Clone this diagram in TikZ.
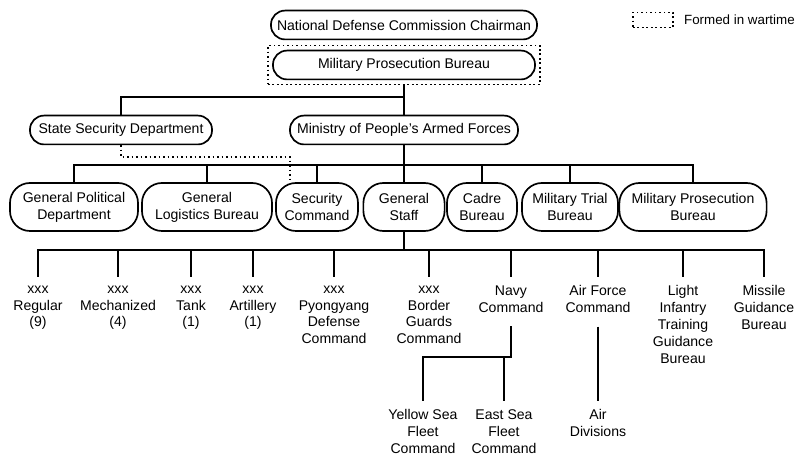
\documentclass[tikz,border=0pt]{standalone}
\usepackage{fontspec}
\setmainfont{Liberation Sans}
\usetikzlibrary{positioning,fit}

\tikzset{
  unit/.style={draw,line width=1.2pt,rounded corners=0.35cm,minimum height=0.72cm,
    inner sep=2pt,font=\fontsize{10}{11.5}\selectfont},
  branch/.style={draw,line width=1.2pt,rounded corners=0.5cm,minimum height=1.2cm,
    align=center,inner sep=2pt,font=\fontsize{10}{12}\selectfont},
  force/.style={align=center,anchor=north,inner sep=6pt,font=\fontsize{10}{12}\selectfont,
    execute at begin node=\strut},
  wartime/.style={draw,dotted,line width=1.2pt},
  link/.style={line width=1.2pt},
}

\begin{document}
\begin{tikzpicture}[x=0.025cm,y=-0.025cm]
  \useasboundingbox (0,0) rectangle (798,457);

  % legend
  \node[wartime,minimum width=1cm,minimum height=0.38cm] (leg) at (653,20) {};
  \node[right=0.25cm of leg,inner sep=0pt,font=\fontsize{9.5}{11}\selectfont] (legtxt) {Formed in wartime};

  % top of the chain
  \node[unit,minimum width=6.65cm] (ndc) at (404,25) {National Defense Commission Chairman};
  \node[unit,minimum width=6.55cm] (mpb1) at (404,65) {Military Prosecution Bureau};
  \node[wartime,fit=(mpb1),inner sep=3pt] (war) {};

  \node[unit,minimum width=4.55cm] (ssd) at (121,130) {State Security Department};
  \node[unit,minimum width=5.7cm] (mapf) at (404,130) {Ministry of People's Armed Forces};

  % second level
  \node[branch,minimum width=3.2cm] (gpd) at (74,207) {General Political\\Department};
  \node[branch,minimum width=3.25cm] (glb) at (207,207) {General\\Logistics Bureau};
  \node[branch,minimum width=2.05cm] (sc) at (317,207) {Security\\Command};
  \node[branch,minimum width=2.03cm] (gs) at (404,207) {General\\Staff};
  \node[branch,minimum width=1.75cm] (cb) at (482,207) {Cadre\\Bureau};
  \node[branch,minimum width=2.4cm] (mtb) at (570,207) {Military Trial\\Bureau};
  \node[branch,minimum width=3.68cm] (mpb2) at (693,207) {Military Prosecution\\Bureau};

  % forces under the General Staff
  \node[force] (reg) at (38,277) {xxx\\Regular\\(9)};
  \node[force] (mech) at (118,277) {xxx\\Mechanized\\(4)};
  \node[force] (tank) at (191,277) {xxx\\Tank\\(1)};
  \node[force] (art) at (253,277) {xxx\\Artillery\\(1)};
  \node[force] (pyd) at (334,277) {xxx\\Pyongyang\\Defense\\Command};
  \node[force] (bgc) at (429,277) {xxx\\Border\\Guards\\Command};
  \node[force] (navy) at (511,277) {Navy\\Command};
  \node[force] (afc) at (598,277) {Air Force\\Command};
  \node[force] (litg) at (683,277) {Light\\Infantry\\Training\\Guidance\\Bureau};
  \node[force] (mgb) at (764,277) {Missile\\Guidance\\Bureau};

  \node[force] (ysf) at (423,401) {Yellow Sea\\Fleet\\Command};
  \node[force] (esf) at (504,401) {East Sea\\Fleet\\Command};
  \node[force] (aird) at (598,401) {Air\\Divisions};

  % bus lines
  \coordinate (bus1) at (0,97);
  \coordinate (bus2) at (0,165);
  \coordinate (bus3) at (0,250);
  \coordinate (fleetbus) at (0,357);
  \coordinate (dotbend) at (290,157);

  \draw[link] (war.south) -- (war.south |- bus1) -| (ssd.north);
  \draw[link] (war.south |- bus1) -- (mapf.north);

  % wartime tie to the Security Command
  \draw[wartime] (ssd.south) |- (dotbend) -- (dotbend |- sc.north);

  \draw[link] (mapf.south) -- (gs.north);
  \draw[link] (gpd.north) |- (bus2 -| mpb2.north) -- (mpb2.north);
  \foreach \n in {glb,sc,cb,mtb}
    \draw[link] (bus2 -| \n.north) -- (\n.north);

  \draw[link] (gs.south) -- (gs.south |- bus3);
  \draw[link] (reg.north) |- (bus3 -| mgb.north) -- (mgb.north);
  \foreach \n in {mech,tank,art,pyd,bgc,navy,afc,litg}
    \draw[link] (bus3 -| \n.north) -- (\n.north);

  % fleets and air divisions
  \draw[link] (navy.south) -- (navy.south |- fleetbus) -| (ysf.north);
  \draw[link] (fleetbus -| esf.north) -- (esf.north);
  \draw[link] (afc.south) -- (aird.north);
\end{tikzpicture}
\end{document}
